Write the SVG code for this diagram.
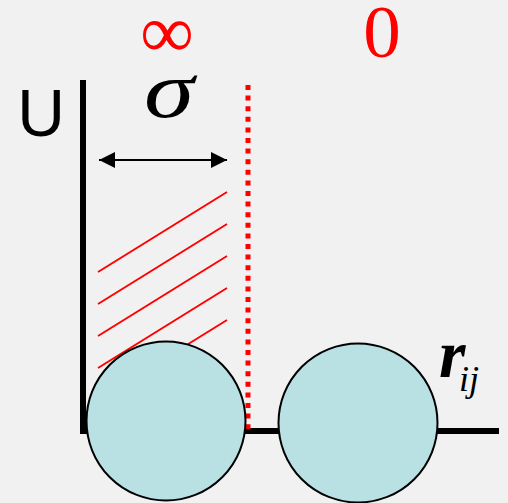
<svg xmlns="http://www.w3.org/2000/svg" width="508" height="503" viewBox="0 0 508 503">
<defs>
<style>
.axis{stroke:#000;stroke-width:6;fill:none}
.hatch{stroke:#ff0000;stroke-width:2}
.ball{fill:#b9e0e3;stroke:#000;stroke-width:2}
.red{fill:#ff0000;font-family:"Liberation Serif",serif}
.it{font-family:"Liberation Serif",serif;font-style:italic}
</style>
<marker id="ah" markerWidth="16" markerHeight="16" refX="16" refY="8" orient="auto-start-reverse" markerUnits="userSpaceOnUse">
<path d="M0,0 L16,8 L0,16 Z" fill="#000"/>
</marker>
</defs>
<rect width="508" height="503" fill="#f1f1f1"/>
<g id="connectors">
<path class="axis" d="M83,80 V431 H499"/>
<line x1="248" y1="85" x2="248" y2="430" stroke="#ff0000" stroke-width="5" stroke-dasharray="5 5.6"/>
<line x1="99" y1="160" x2="227" y2="160" stroke="#000" stroke-width="2" marker-start="url(#ah)" marker-end="url(#ah)"/>
<g id="hatching">
<line class="hatch" x1="98" y1="272" x2="227" y2="192"/>
<line class="hatch" x1="98" y1="304" x2="227" y2="224"/>
<line class="hatch" x1="98" y1="336" x2="227" y2="256"/>
<line class="hatch" x1="98" y1="368" x2="227" y2="288"/>
<line class="hatch" x1="98" y1="400" x2="227" y2="320"/>
</g>
</g>
<g id="particle-i"><circle class="ball" cx="166" cy="421" r="79.5"/></g>
<g id="particle-j"><circle class="ball" cx="358" cy="423" r="79.5"/></g>
<g id="labels">
<text x="41" y="136" font-family="Liberation Sans,Arial,sans-serif" font-size="66" text-anchor="middle">U</text>
<text class="it" transform="translate(169,117) scale(1.27,1)" x="0" y="0" font-size="80" text-anchor="middle">σ</text>
<text class="red" x="167" y="57" font-size="75" text-anchor="middle">∞</text>
<text class="red" x="382" y="57" font-size="75" text-anchor="middle">0</text>
<text class="it" x="439" y="377" font-size="68" font-weight="bold">r</text>
<text class="it" x="459" y="391" font-size="36">ij</text>
</g>
</svg>
